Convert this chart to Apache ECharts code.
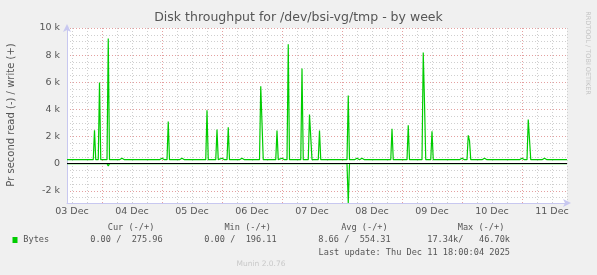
<!DOCTYPE html>
<html><head><meta charset="utf-8">
<script src="https://cdn.jsdelivr.net/npm/echarts@6/dist/echarts.min.js"></script>
<style>html,body{margin:0;padding:0;background:#f0f0f0}#c{width:597px;height:275px}</style>
</head><body><div id="c"></div>
<script>
// ---------- data ----------
const chartTitle = 'Disk throughput for /dev/bsi-vg/tmp - by week';
const yAxisTitle = 'Pr second read (-) / write (+)';
const credit = 'RRDTOOL / TOBI OETIKER';
const footer = 'Munin 2.0.76';
const startTime = '2025-12-03 10:00';
const endTime = '2025-12-11 18:00';
const dayLabels = ['03 Dec','04 Dec','05 Dec','06 Dec','07 Dec','08 Dec','09 Dec','10 Dec','11 Dec'];
const dayLabelTimes = ['2025-12-03 12:00','2025-12-04 12:00','2025-12-05 12:00','2025-12-06 12:00','2025-12-07 12:00','2025-12-08 12:00','2025-12-09 12:00','2025-12-10 12:00','2025-12-11 12:00'];
const yMajorTicks = [-2000, 0, 2000, 4000, 6000, 8000, 10000];
const yMin = -2900, yMax = 10000;

const writeTimes = [
 '2025-12-03 10:00',
 '2025-12-03 20:30','2025-12-03 21:00','2025-12-03 21:30',
 '2025-12-03 22:30','2025-12-03 23:00','2025-12-03 23:30',
 '2025-12-04 02:00','2025-12-04 02:30','2025-12-04 03:00',
 '2025-12-04 07:00','2025-12-04 08:00','2025-12-04 09:00',
 '2025-12-04 23:00','2025-12-05 00:00','2025-12-05 01:00',
 '2025-12-05 02:00','2025-12-05 02:30','2025-12-05 03:00',
 '2025-12-05 07:00','2025-12-05 08:00','2025-12-05 09:00',
 '2025-12-05 17:30','2025-12-05 18:00','2025-12-05 18:30',
 '2025-12-05 21:30','2025-12-05 22:00','2025-12-05 22:30',
 '2025-12-05 23:00','2025-12-06 00:00','2025-12-06 01:00',
 '2025-12-06 02:00','2025-12-06 02:30','2025-12-06 03:00',
 '2025-12-06 07:00','2025-12-06 08:00','2025-12-06 09:00',
 '2025-12-06 15:00','2025-12-06 15:30','2025-12-06 16:00','2025-12-06 16:30',
 '2025-12-06 21:30','2025-12-06 22:00','2025-12-06 22:30',
 '2025-12-06 23:00','2025-12-07 00:00','2025-12-07 01:00',
 '2025-12-07 02:00','2025-12-07 02:30','2025-12-07 03:00',
 '2025-12-07 07:30','2025-12-07 08:00','2025-12-07 08:30',
 '2025-12-07 10:30','2025-12-07 11:00','2025-12-07 11:30','2025-12-07 12:00',
 '2025-12-07 14:30','2025-12-07 15:00','2025-12-07 15:30',
 '2025-12-08 02:00','2025-12-08 02:30','2025-12-08 03:00',
 '2025-12-08 05:00','2025-12-08 06:00','2025-12-08 07:00','2025-12-08 08:00','2025-12-08 09:00',
 '2025-12-08 19:30','2025-12-08 20:00','2025-12-08 20:30',
 '2025-12-09 02:00','2025-12-09 02:30','2025-12-09 03:00',
 '2025-12-09 08:00','2025-12-09 08:30','2025-12-09 09:00','2025-12-09 09:30',
 '2025-12-09 11:30','2025-12-09 12:00','2025-12-09 12:30',
 '2025-12-09 23:00','2025-12-10 00:00','2025-12-10 01:00',
 '2025-12-10 02:00','2025-12-10 02:30','2025-12-10 03:00','2025-12-10 03:30',
 '2025-12-10 08:00','2025-12-10 09:00','2025-12-10 10:00',
 '2025-12-10 23:00','2025-12-11 00:00','2025-12-11 01:00',
 '2025-12-11 02:00','2025-12-11 02:30','2025-12-11 03:00','2025-12-11 03:30',
 '2025-12-11 08:00','2025-12-11 09:00','2025-12-11 10:00',
 '2025-12-11 18:00'
];
const writeValues = [
 295,
 295, 2460, 295,
 295, 5980, 295,
 295, 9230, 295,
 295, 400, 295,
 295, 400, 295,
 295, 3100, 295,
 295, 400, 295,
 295, 3940, 295,
 295, 2510, 295,
 295, 400, 295,
 295, 2680, 295,
 295, 400, 295,
 295, 5710, 5710, 295,
 295, 2440, 295,
 295, 400, 295,
 295, 8810, 295,
 295, 7010, 295,
 295, 3620, 3620, 295,
 295, 2440, 295,
 295, 5020, 295,
 295, 400, 295, 400, 295,
 295, 2580, 295,
 295, 2830, 295,
 295, 8200, 4500, 295,
 295, 2390, 295,
 295, 400, 295,
 295, 2090, 1700, 295,
 295, 400, 295,
 295, 400, 295,
 295, 3250, 3250, 295,
 295, 400, 295,
 295
];
const readTimes = ['2025-12-03 10:00','2025-12-04 02:00','2025-12-04 02:30','2025-12-04 03:00','2025-12-08 02:00','2025-12-08 02:30','2025-12-08 03:00','2025-12-11 18:00'];
const readValues = [0, 0, -160, 0, 0, -2900, 0, 0];

const legendHeaders = ['Cur (-/+)', 'Min (-/+)', 'Avg (-/+)', 'Max (-/+)'];
const legendName = 'Bytes';
const legendValues = ['0.00 /  275.96', '0.00 /  196.11', '8.66 /  554.31', '17.34k/   46.70k'];
const lastUpdate = 'Last update: Thu Dec 11 18:00:04 2025';

// ---------- helpers ----------
const toMs = t => Date.parse(t.replace(' ', 'T') + ':00Z');
const t0 = toMs(startTime);
const toH = t => (toMs(t) - t0) / 3600000;
const xMax = toH(endTime);
const labelHours = dayLabelTimes.map(toH);
const majorHours = [], minorHours = [];
for (let h = 2; h <= xMax; h += 6) {
  if (((h - 14) % 24) === 0) majorHours.push(h); else minorHours.push(h);
}
const yMinor = [];
for (let v = -2500; v <= yMax; v += 500) if (v % 2000 !== 0) yMinor.push(v);

const writeData = writeTimes.map((t, i) => [toH(t), writeValues[i]]);
const readData = readTimes.map((t, i) => [toH(t), readValues[i]]);

const GREEN = '#00cc00';
const TXT = '#555';
const mono = 'DejaVu Sans Mono';
const monoFont = '8.6px "' + mono + '"';
const minorLine = {show: true, lineStyle: {color: '#cfcfcf', width: 1, type: [1, 2]}};
const majorLine = {show: true, lineStyle: {color: '#e4a0a0', width: 1, type: [1, 2]}};
const axisCol = '#c8c8f0';

const chart = echarts.init(document.getElementById('c'), null, {renderer: 'canvas'});
chart.setOption({
  animation: false,
  backgroundColor: '#f0f0f0',
  grid: {left: 67, right: 30, top: 28, bottom: 72, show: true, backgroundColor: '#ffffff', borderWidth: 0},
  xAxis: [
    {type: 'value', min: 0, max: xMax, position: 'bottom',
     axisLine: {show: true, onZero: false, lineStyle: {color: axisCol, width: 1}, symbol: ['none', 'arrow'], symbolSize: [6, 8], symbolOffset: [0, 4]},
     axisTick: {show: false, customValues: minorHours},
     splitLine: minorLine,
     axisLabel: {customValues: labelHours, formatter: v => dayLabels[labelHours.indexOf(v)], color: TXT, fontFamily: 'DejaVu Sans', fontSize: 9.5, margin: 4}},
    {type: 'value', min: 0, max: xMax, position: 'bottom',
     axisLine: {show: false}, axisTick: {show: false, customValues: majorHours},
     splitLine: majorLine, axisLabel: {show: false}}
  ],
  yAxis: [
    {type: 'value', min: yMin, max: yMax, position: 'left',
     axisLine: {show: true, onZero: false, lineStyle: {color: axisCol, width: 1}, symbol: ['none', 'arrow'], symbolSize: [6, 8], symbolOffset: [0, 4]},
     axisTick: {show: false, customValues: yMajorTicks},
     splitLine: majorLine,
     axisLabel: {customValues: yMajorTicks, formatter: v => v === 0 ? '0' : (v / 1000) + ' k', color: TXT, fontFamily: 'DejaVu Sans', fontSize: 9.5, margin: 7}},
    {type: 'value', min: yMin, max: yMax, position: 'left',
     axisLine: {show: false}, axisTick: {show: false, customValues: yMinor},
     splitLine: minorLine, axisLabel: {show: false}}
  ],
  series: [
    {type: 'line', name: 'read', data: readData, xAxisIndex: 0, yAxisIndex: 0, showSymbol: false, symbol: 'none',
     lineStyle: {color: GREEN, width: 1.2}, z: 3},
    {type: 'line', name: 'write', data: writeData, xAxisIndex: 0, yAxisIndex: 0, showSymbol: false, symbol: 'none',
     lineStyle: {color: GREEN, width: 1.2}, z: 3,
     markLine: {silent: true, symbol: ['none', 'none'], label: {show: false},
       lineStyle: {color: '#000', width: 1.2, type: 'solid'}, data: [{yAxis: 0}], z: 5}}
  ],
  graphic: [
    {type: 'text', left: 'center', top: 11, style: {text: chartTitle, fill: TXT, font: '12.5px "DejaVu Sans"'}},
    {type: 'text', x: 11.5, y: 115, rotation: Math.PI / 2, style: {text: yAxisTitle, fill: TXT, font: '10px "DejaVu Sans"', align: 'center', verticalAlign: 'middle'}},
    {type: 'text', x: 588, y: 53, rotation: -Math.PI / 2, style: {text: credit, fill: '#c4c4c4', font: '6.5px "DejaVu Sans"', align: 'center', verticalAlign: 'middle'}},
    {type: 'text', x: 154.3, y: 227.3, style: {text: legendHeaders[0], fill: TXT, font: monoFont, align: 'right', verticalAlign: 'middle'}},
    {type: 'text', x: 271, y: 227.3, style: {text: legendHeaders[1], fill: TXT, font: monoFont, align: 'right', verticalAlign: 'middle'}},
    {type: 'text', x: 387.7, y: 227.3, style: {text: legendHeaders[2], fill: TXT, font: monoFont, align: 'right', verticalAlign: 'middle'}},
    {type: 'text', x: 504.3, y: 227.3, style: {text: legendHeaders[3], fill: TXT, font: monoFont, align: 'right', verticalAlign: 'middle'}},
    {type: 'rect', shape: {x: 12.5, y: 237, width: 5, height: 6}, style: {fill: GREEN}},
    {type: 'text', x: 23.3, y: 240, style: {text: legendName, fill: TXT, font: monoFont, align: 'left', verticalAlign: 'middle'}},
    {type: 'text', x: 162.7, y: 240, style: {text: legendValues[0], fill: TXT, font: monoFont, align: 'right', verticalAlign: 'middle'}},
    {type: 'text', x: 276.7, y: 240, style: {text: legendValues[1], fill: TXT, font: monoFont, align: 'right', verticalAlign: 'middle'}},
    {type: 'text', x: 390.7, y: 240, style: {text: legendValues[2], fill: TXT, font: monoFont, align: 'right', verticalAlign: 'middle'}},
    {type: 'text', x: 510, y: 240, style: {text: legendValues[3], fill: TXT, font: monoFont, align: 'right', verticalAlign: 'middle'}},
    {type: 'text', x: 510, y: 252.3, style: {text: lastUpdate, fill: TXT, font: monoFont, align: 'right', verticalAlign: 'middle'}},
    {type: 'text', x: 261, y: 264, style: {text: footer, fill: '#c8c8c8', font: '7.5px "DejaVu Sans"', align: 'center', verticalAlign: 'middle'}}
  ]
});
</script>
</body></html>
